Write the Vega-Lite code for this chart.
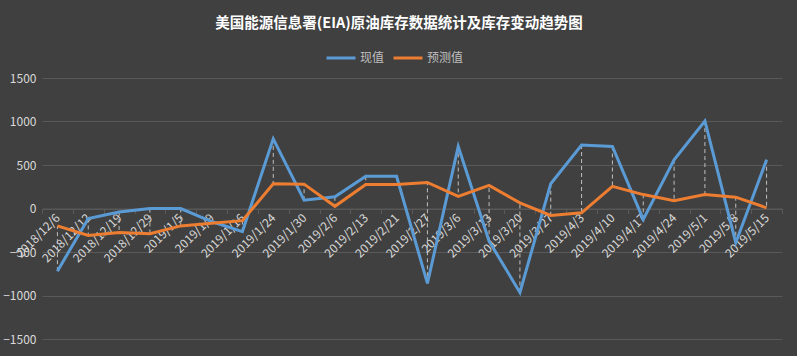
{
  "$schema": "https://vega.github.io/schema/vega-lite/v6.json",
  "width": 740,
  "height": 261,
  "autosize": {"type": "none"},
  "padding": {"left": 42, "top": 78, "right": 15, "bottom": 17},
  "background": "#404040",
  "title": {
    "text": "美国能源信息署(EIA)原油库存数据统计及库存变动趋势图",
    "font": "Noto Sans CJK SC",
    "fontSize": 14.5,
    "fontWeight": "bold",
    "color": "#ffffff",
    "anchor": "middle",
    "frame": "group",
    "dx": -13,
    "offset": 11
  },
  "config": {
    "view": {"stroke": null},
    "font": "Noto Sans CJK SC"
  },
  "data": {
    "values": [
      {"date": "2018/12/6", "现值": -720, "预测值": -200},
      {"date": "2018/12/12", "现值": -115, "预测值": -310},
      {"date": "2018/12/19", "现值": -40, "预测值": -275},
      {"date": "2018/12/29", "现值": 0, "预测值": -290},
      {"date": "2019/1/5", "现值": 0, "预测值": -200},
      {"date": "2019/1/9", "现值": -150, "预测值": -170},
      {"date": "2019/1/16", "现值": -265, "预测值": -140},
      {"date": "2019/1/24", "现值": 800, "预测值": 285},
      {"date": "2019/1/30", "现值": 95, "预测值": 280},
      {"date": "2019/2/6", "现值": 135, "预测值": 25},
      {"date": "2019/2/13", "现值": 370, "预测值": 275},
      {"date": "2019/2/21", "现值": 370, "预测值": 275},
      {"date": "2019/2/27", "现值": -860, "预测值": 300},
      {"date": "2019/3/6", "现值": 713, "预测值": 140},
      {"date": "2019/3/13", "现值": -375, "预测值": 265},
      {"date": "2019/3/20", "现值": -965, "预测值": 65},
      {"date": "2019/3/27", "现值": 285, "预测值": -80},
      {"date": "2019/4/3", "现值": 730, "预测值": -50},
      {"date": "2019/4/10", "现值": 713, "预测值": 255},
      {"date": "2019/4/17", "现值": -125, "预测值": 160},
      {"date": "2019/4/24", "现值": 560, "预测值": 90},
      {"date": "2019/5/1", "现值": 1005, "预测值": 160},
      {"date": "2019/5/8", "现值": -393, "预测值": 130},
      {"date": "2019/5/15", "现值": 560, "预测值": 8}
    ]
  },
  "encoding": {
    "x": {
      "field": "date",
      "type": "ordinal",
      "sort": null,
      "scale": {"paddingInner": 0, "paddingOuter": 0},
      "axis": {
        "title": null,
        "orient": "bottom",
        "offset": -130.5,
        "labelAngle": -45,
        "labelAlign": "right",
        "labelBaseline": "middle",
        "labelColor": "#d9d9d9",
        "labelFontSize": 12,
        "labelPadding": 2,
        "domainColor": "#595959",
        "tickColor": "#595959",
        "tickBand": "extent",
        "tickSize": 5,
        "grid": false
      }
    }
  },
  "layer": [
    {
      "mark": {"type": "rule", "color": "#bfbfbf", "strokeDash": [4, 3], "strokeWidth": 1},
      "encoding": {
        "y": {"field": "现值", "type": "quantitative"},
        "y2": {"field": "预测值"}
      }
    },
    {
      "transform": [{"fold": ["现值", "预测值"], "as": ["series", "value"]}],
      "mark": {"type": "line", "strokeWidth": 3, "strokeJoin": "miter"},
      "encoding": {
        "y": {
          "field": "value",
          "type": "quantitative",
          "scale": {"domain": [-1500, 1500], "nice": false},
          "axis": {
            "title": null,
            "values": [-1500, -1000, -500, 0, 500, 1000, 1500],
            "format": "d",
            "domain": false,
            "ticks": false,
            "labelColor": "#d9d9d9",
            "labelFontSize": 12,
            "labelPadding": 6,
            "gridColor": "#595959",
            "gridWidth": 1
          }
        },
        "color": {
          "field": "series",
          "type": "nominal",
          "scale": {"domain": ["现值", "预测值"], "range": ["#5b9bd5", "#ed7d31"]},
          "legend": {
            "title": null,
            "orient": "none",
            "legendX": 283,
            "legendY": -36,
            "direction": "horizontal",
            "symbolType": "stroke",
            "symbolStrokeWidth": 3,
            "symbolSize": 841,
            "labelColor": "#bfbfbf",
            "labelFontSize": 12,
            "labelOffset": 3,
            "columnPadding": 2
          }
        }
      }
    }
  ]
}
